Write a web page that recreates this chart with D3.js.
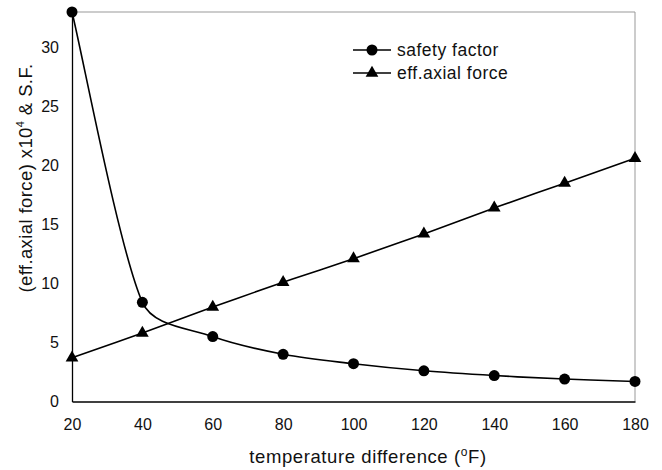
<!DOCTYPE html>
<html>
<head>
<meta charset="utf-8">
<script src="https://cdn.jsdelivr.net/npm/d3@7"></script>
<style>
  html, body { margin: 0; padding: 0; background: #fff; }
  svg { display: block; font-family: "Liberation Sans", Arial, Helvetica, sans-serif; }
</style>
</head>
<body>
<svg id="chart" width="662" height="470"></svg>
<script>
// Temperature difference (°F)
const temps = [20, 40, 60, 80, 100, 120, 140, 160, 180];
// Safety factor at each temperature difference
const safetyFactor = [33.0, 8.4, 5.5, 4.0, 3.2, 2.6, 2.2, 1.9, 1.7];
// Effective axial force (x10^4)
const effAxialForce = [3.7, 5.8, 8.0, 10.1, 12.1, 14.2, 16.4, 18.5, 20.6];
// Axis ticks
const xTicks = [20, 40, 60, 80, 100, 120, 140, 160, 180];
const yTicks = [0, 5, 10, 15, 20, 25, 30];

const svg = d3.select("#chart");
const margin = { left: 72, right: 27, top: 12, bottom: 68 };
const W = 662, H = 470;

const x = d3.scaleLinear().domain([20, 180]).range([margin.left, W - margin.right]);
const y = d3.scaleLinear().domain([0, 33]).range([H - margin.bottom - 0.5, margin.top]);

// Smoothed line: cubic Bezier segments with Catmull-Rom style tangents,
// each control arm limited to a third of its segment so short segments don't overshoot.
function smoothCurve(context) {
  let pts = [];
  return {
    areaStart() {}, areaEnd() {},
    lineStart() { pts = []; },
    point(px, py) { pts.push([+px, +py]); },
    lineEnd() {
      const n = pts.length;
      if (!n) return;
      context.moveTo(pts[0][0], pts[0][1]);
      for (let i = 0; i < n - 1; i++) {
        const p0 = pts[i], p1 = pts[i + 1];
        const prev = pts[i - 1] || p0, next = pts[i + 2] || p1;
        const L = Math.hypot(p1[0] - p0[0], p1[1] - p0[1]);
        const arm = (a, b) => {
          let dx = (b[0] - a[0]) / 6, dy = (b[1] - a[1]) / 6;
          const len = Math.hypot(dx, dy), lim = L / 3;
          if (len > lim) { dx *= lim / len; dy *= lim / len; }
          return [dx, dy];
        };
        const t0 = arm(prev, p1), t1 = arm(p0, next);
        context.bezierCurveTo(p0[0] + t0[0], p0[1] + t0[1], p1[0] - t1[0], p1[1] - t1[1], p1[0], p1[1]);
      }
    }
  };
}

// Plot frame: light top/right border, solid left/bottom axis lines
svg.append("path")
  .attr("d", `M${x(20)},${y(33)}H${x(180)}V${y(0)}`)
  .attr("fill", "none").attr("stroke", "#999").attr("stroke-width", 1);

const xAxis = d3.axisBottom(x).tickValues(xTicks).tickSize(0).tickPadding(17);
const yAxis = d3.axisLeft(y).tickValues(yTicks).tickSize(0).tickPadding(13);

const gx = svg.append("g").attr("transform", `translate(0,${y(0)})`).call(xAxis);
const gy = svg.append("g").attr("transform", `translate(${x(20)},0)`).call(yAxis);
[gx, gy].forEach(g => {
  g.select(".domain").attr("stroke", "#000").attr("stroke-width", 1.3);
  g.selectAll("text").attr("font-size", 16).attr("fill", "#111")
    .attr("font-family", "'Liberation Sans', Arial, sans-serif");
});

// Axis titles
svg.append("text")
  .attr("x", 368).attr("y", 463)
  .attr("text-anchor", "middle").attr("font-size", 18.5).attr("fill", "#111")
  .attr("letter-spacing", 0.6)
  .html('temperature difference (<tspan dy="-7" font-size="12">o</tspan><tspan dy="7">F)</tspan>');

svg.append("text")
  .attr("transform", `translate(32,${178}) rotate(-90)`)
  .attr("text-anchor", "middle").attr("font-size", 18.5).attr("fill", "#111")
  .attr("letter-spacing", 0.4)
  .html('(eff.axial force) x10<tspan dy="-8" font-size="11">4</tspan><tspan dy="8"> &amp; S.F.</tspan>');

const line = d3.line().x((d, i) => x(temps[i])).y(d => y(d)).curve(smoothCurve);

// Series lines
svg.append("path").datum(effAxialForce).attr("d", line)
  .attr("fill", "none").attr("stroke", "#000").attr("stroke-width", 1.6);
svg.append("path").datum(safetyFactor).attr("d", line)
  .attr("fill", "none").attr("stroke", "#000").attr("stroke-width", 1.6);

// Markers
const tri = d3.symbol().type(d3.symbolTriangle).size(70);
svg.append("g").selectAll("path").data(effAxialForce).join("path")
  .attr("d", tri)
  .attr("transform", (d, i) => `translate(${x(temps[i])},${y(d)})`)
  .attr("fill", "#000");
svg.append("g").selectAll("circle").data(safetyFactor).join("circle")
  .attr("cx", (d, i) => x(temps[i])).attr("cy", d => y(d))
  .attr("r", 5.5).attr("fill", "#000");

// Legend
const legend = [
  { label: "safety factor", marker: "circle", yPos: 50 },
  { label: "eff.axial force", marker: "triangle", yPos: 73 }
];
const lg = svg.append("g");
legend.forEach(item => {
  lg.append("line").attr("x1", 353).attr("x2", 391)
    .attr("y1", item.yPos).attr("y2", item.yPos)
    .attr("stroke", "#000").attr("stroke-width", 1.6);
  if (item.marker === "circle") {
    lg.append("circle").attr("cx", 372).attr("cy", item.yPos).attr("r", 5.5).attr("fill", "#000");
  } else {
    lg.append("path").attr("d", tri).attr("transform", `translate(372,${item.yPos})`).attr("fill", "#000");
  }
  lg.append("text").attr("x", 397).attr("y", item.yPos + 6)
    .attr("font-size", 17.5).attr("letter-spacing", 0.5).attr("fill", "#111").text(item.label);
});
</script>
</body>
</html>
